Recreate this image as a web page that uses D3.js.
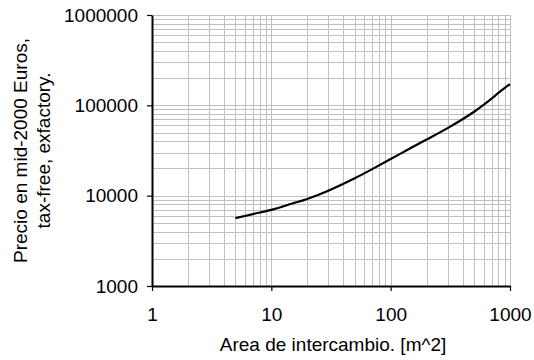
<!DOCTYPE html>
<html>
<head>
<meta charset="utf-8">
<script src="https://cdn.jsdelivr.net/npm/d3@7"></script>
<style>
  html, body { margin: 0; padding: 0; background: #fff; }
  text { font-family: "Liberation Sans", Arial, sans-serif; }
</style>
</head>
<body>
<svg id="chart" width="534" height="360"></svg>
<script>
// Data
const areas  = [5, 7, 10, 15, 20, 30, 50, 70, 100, 150, 200, 300, 400, 500, 600, 700, 800, 900, 1000];
const prices = [5650, 6250, 6960, 8180, 9180, 11330, 15550, 19680, 25440, 34070, 41800, 55960, 70040, 84860, 101100, 118700, 137400, 155500, 171000];
const xTickValues = [1, 10, 100, 1000];
const yTickValues = [1000, 10000, 100000, 1000000];
const xTitle = "Area de intercambio. [m^2]";
const yTitleLines = ["Precio en mid-2000 Euros,", "tax-free, exfactory."];

const svg = d3.select("#chart");
const W = 534, H = 360;
const margin = { left: 152, right: 24, top: 15, bottom: 74 };
const x = d3.scaleLog().domain([1, 1000]).range([margin.left, W - margin.right]);
const y = d3.scaleLog().domain([1000, 1000000]).range([H - margin.bottom, margin.top]);

function minorVals(lo, hi) {
  const v = [];
  for (let d = lo; d < hi; d *= 10) for (let k = 1; k <= 10; k++) v.push(d * k);
  return Array.from(new Set(v));
}
const xGrid = minorVals(1, 1000);
const yGrid = minorVals(1000, 1000000);

const grid = svg.append("g").attr("stroke", "#c0c0c0").attr("stroke-width", 1);
grid.selectAll("line.v").data(xGrid).join("line")
  .attr("x1", d => Math.round(x(d)) + 0.5).attr("x2", d => Math.round(x(d)) + 0.5)
  .attr("y1", y(1000)).attr("y2", y(1000000));
grid.selectAll("line.h").data(yGrid).join("line")
  .attr("y1", d => Math.round(y(d)) + 0.5).attr("y2", d => Math.round(y(d)) + 0.5)
  .attr("x1", x(1)).attr("x2", x(1000));

const fs = 19;
const xAxis = d3.axisBottom(x).tickValues(xTickValues).tickFormat(d3.format("d")).tickSizeInner(5).tickSizeOuter(0).tickPadding(17);
const yAxis = d3.axisLeft(y).tickValues(yTickValues).tickFormat(d3.format("d")).tickSizeInner(5).tickSizeOuter(0).tickPadding(9);

const gx = svg.append("g").attr("transform", `translate(0,${Math.round(y(1000))})`).call(xAxis);
const gy = svg.append("g").attr("transform", `translate(${Math.round(x(1))},0)`).call(yAxis);
[gx, gy].forEach(g => {
  g.select(".domain").attr("stroke", "#000").attr("stroke-width", 2);
  g.selectAll(".tick line").attr("stroke", "#000").attr("stroke-width", 1.2);
  g.selectAll("text").attr("font-size", fs).attr("fill", "#000")
    .attr("font-family", "'Liberation Sans', Arial, sans-serif");
});

// curve
const line = d3.line().x((d, i) => x(areas[i])).y(d => y(d)).curve(d3.curveCatmullRom.alpha(0.5));
svg.append("path").datum(prices).attr("d", line)
  .attr("fill", "none").attr("stroke", "#000").attr("stroke-width", 2.2);

// titles
svg.append("text").attr("x", 333).attr("y", 351)
  .attr("text-anchor", "middle").attr("font-size", fs).attr("fill", "#000").text(xTitle);
const yt = svg.append("text").attr("transform", `translate(0,${(y(1000) + y(1000000)) / 2}) rotate(-90)`)
  .attr("text-anchor", "middle").attr("font-size", fs).attr("fill", "#000");
yt.append("tspan").attr("x", 0).attr("y", 27).text(yTitleLines[0]);
yt.append("tspan").attr("x", 0).attr("y", 49.5).text(yTitleLines[1]);
</script>
</body>
</html>
